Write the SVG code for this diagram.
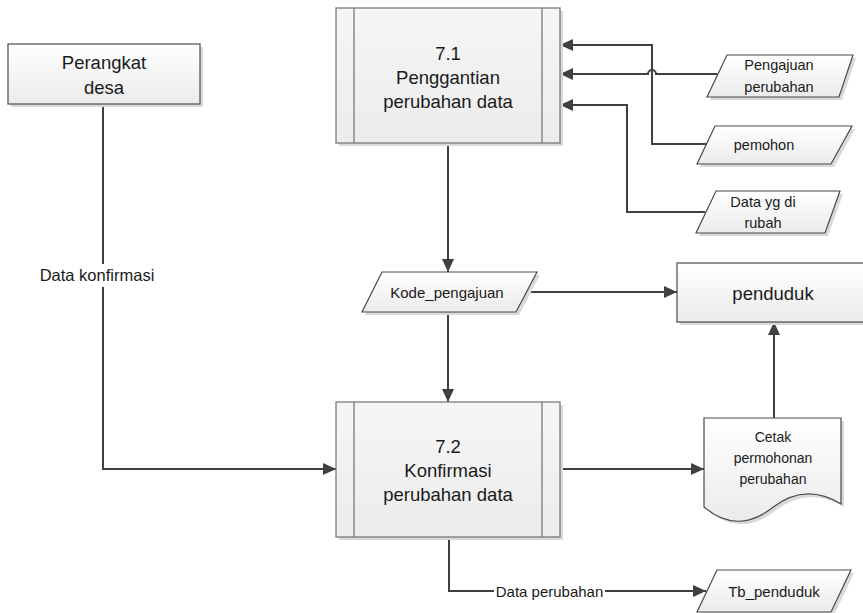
<svg xmlns="http://www.w3.org/2000/svg" width="863" height="613" viewBox="0 0 863 613">
<style>
text{font-family:"Liberation Sans",Arial,sans-serif;fill:#1a1a1a;text-anchor:middle;dominant-baseline:central}
.big{font-size:18.5px}
.lbl{font-size:15px}
.sm{font-size:14.5px}
.proc{fill:url(#gp);stroke:#7a7a7a;stroke-width:1.3}
.pline{stroke:#7a7a7a;stroke-width:1.3;fill:none}
.ent{fill:url(#ge);stroke:#5a5a5a;stroke-width:1.3}
.shape{fill:url(#ge);stroke:#4a4a4a;stroke-width:1.2}
.shadow{fill:#d9d9d9}
.conn{fill:none;stroke:#404040;stroke-width:2}
.arr{marker-end:url(#ah)}
.bg{fill:#ffffff}
</style>
<defs>
<linearGradient id="gp" x1="0" y1="0" x2="0" y2="1">
<stop offset="0" stop-color="#f6f6f6"/>
<stop offset="1" stop-color="#ececec"/>
</linearGradient>
<linearGradient id="ge" x1="0" y1="0" x2="0" y2="1">
<stop offset="0" stop-color="#ffffff"/>
<stop offset="1" stop-color="#ebebeb"/>
</linearGradient>
<marker id="ah" markerUnits="userSpaceOnUse" markerWidth="14" markerHeight="14" refX="13" refY="6" orient="auto">
<path d="M0,0 L13,6 L0,12 z" fill="#404040"/>
</marker>
</defs>
<rect width="863" height="613" fill="#ffffff"/>

<g id="connectors">
<path class="conn arr" d="M103,104 V469 H336"/>
<rect class="bg" x="36" y="264" width="124" height="23"/>
<text x="97" y="275" style="font-size:16.5px">Data konfirmasi</text>
<path class="conn arr" d="M706,144 H652 V45 H560"/>
<path class="conn arr" d="M717,74 H656 A4,4 0 0 0 648,74 H560"/>
<path class="conn arr" d="M705,212 H627 V105 H560"/>
<path class="conn arr" d="M448,143 V272"/>
<path class="conn arr" d="M448,312 V402"/>
<path class="conn arr" d="M526,292 H677"/>
<path class="conn arr" d="M560,469 H704"/>
<path class="conn arr" d="M774,418 V322"/>
<path class="conn arr" d="M449,537 V591 H706"/>
<rect class="bg" x="494" y="581" width="111" height="20"/>
<text class="lbl" x="549.5" y="591">Data perubahan</text>
</g>

<g id="perangkat-desa">
<rect class="shadow" x="11" y="47" width="192" height="60"/>
<rect class="ent" x="8" y="44" width="192" height="60"/>
<text class="big" x="104" y="62">Perangkat</text>
<text class="big" x="104" y="87">desa</text>
</g>

<g id="proses-7-1">
<rect class="shadow" x="339" y="11" width="224" height="135"/>
<rect class="proc" x="336" y="8" width="224" height="135"/>
<path class="pline" d="M354,8 V143 M542,8 V143"/>
<text class="big" x="448" y="53">7.1</text>
<text class="big" x="448" y="77">Penggantian</text>
<text class="big" x="448" y="101">perubahan data</text>
</g>

<g id="pengajuan-perubahan">
<polygon class="shadow" points="730,58 856,58 842,100 710,100"/>
<polygon class="shape" points="727,55 853,55 839,97 707,97"/>
<text class="sm" x="779" y="65">Pengajuan</text>
<text class="sm" x="779" y="87">perubahan</text>
</g>

<g id="pemohon">
<polygon class="shadow" points="718,129 855,129 834,167 700,167"/>
<polygon class="shape" points="715,126 852,126 831,164 697,164"/>
<text class="sm" x="764" y="145">pemohon</text>
</g>

<g id="data-yg-di-rubah">
<polygon class="shadow" points="719,194 843,194 828,236 699,236"/>
<polygon class="shape" points="716,191 840,191 825,233 696,233"/>
<text class="sm" x="763" y="202">Data yg di</text>
<text class="sm" x="763" y="223">rubah</text>
</g>

<g id="kode-pengajuan">
<polygon class="shadow" points="385,275 540,275 519,315 365,315"/>
<polygon class="shape" points="382,272 537,272 516,312 362,312"/>
<text class="lbl" x="447" y="292">Kode_pengajuan</text>
</g>

<g id="penduduk">
<rect class="shadow" x="680" y="266" width="192" height="59"/>
<rect class="shape" x="677" y="263" width="192" height="59"/>
<text class="big" x="773" y="293">penduduk</text>
</g>

<g id="proses-7-2">
<rect class="shadow" x="339" y="405" width="224" height="135"/>
<rect class="proc" x="336" y="402" width="224" height="135"/>
<path class="pline" d="M354,402 V537 M542,402 V537"/>
<text class="big" x="448" y="446">7.2</text>
<text class="big" x="448" y="470">Konfirmasi</text>
<text class="big" x="448" y="494">perubahan data</text>
</g>

<g id="cetak-permohonan">
<path class="shadow" d="M707,421 H844 V507 Q808,485 775,511 Q740,538 707,510 Z"/>
<path class="shape" d="M704,418 H841 V504 Q805,482 772,508 Q737,535 704,507 Z"/>
<text x="773" y="437" style="font-size:14px">Cetak</text>
<text x="773" y="458" style="font-size:14px">permohonan</text>
<text x="773" y="479" style="font-size:14px">perubahan</text>
</g>

<g id="tb-penduduk">
<polygon class="shadow" points="720,573 854,573 834,615 700,615"/>
<polygon class="shape" points="717,570 851,570 831,612 697,612"/>
<text class="lbl" x="774" y="591">Tb_penduduk</text>
</g>
</svg>
